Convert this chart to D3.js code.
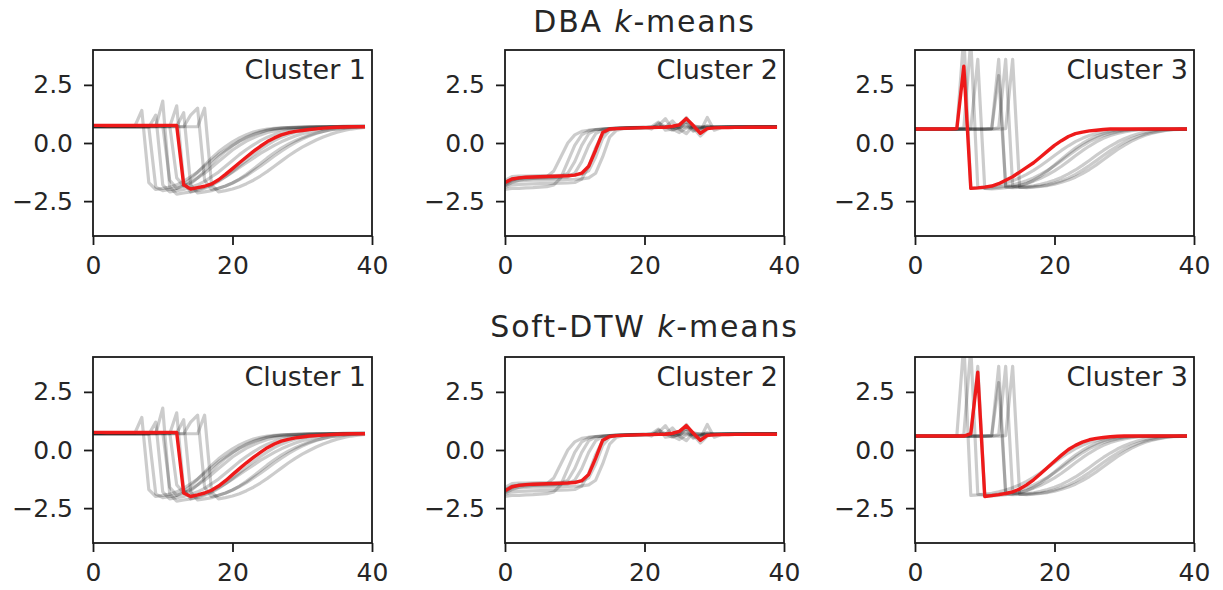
<!DOCTYPE html>
<html>
<head>
<meta charset="utf-8">
<script src="https://cdn.jsdelivr.net/npm/d3@7"></script>
<style>
  body { margin: 0; background: #fff; }
  svg { display: block; font-family: "DejaVu Sans", sans-serif; }
</style>
</head>
<body>
<svg></svg>
<script>
// time series of each cluster (t = 0..39), same members in both rows
const cluster1 = [
  [0.72,0.72,0.71,0.72,0.72,0.71,0.72,1.4,-1.7,-2.0,-1.95,-1.9,-1.8,-1.65,-1.45,-1.25,-1.0,-0.75,-0.5,-0.3,-0.1,0.08,0.22,0.35,0.45,0.55,0.6,0.63,0.65,0.66,0.67,0.68,0.69,0.7,0.7,0.71,0.71,0.72,0.72,0.72],
  [0.7,0.7,0.7,0.7,0.7,0.7,0.7,0.7,0.7,-1.9,-2.05,-2.0,-1.95,-1.85,-1.7,-1.5,-1.3,-1.05,-0.8,-0.55,-0.3,-0.1,0.08,0.22,0.35,0.45,0.52,0.58,0.62,0.64,0.66,0.67,0.68,0.69,0.7,0.7,0.71,0.71,0.72,0.72],
  [0.68,0.68,0.68,0.68,0.68,0.68,0.68,0.68,0.68,1.2,-1.8,-2.1,-2.05,-2.0,-1.9,-1.8,-1.65,-1.45,-1.25,-1.0,-0.75,-0.5,-0.28,-0.08,0.1,0.25,0.37,0.46,0.53,0.58,0.62,0.65,0.67,0.68,0.69,0.7,0.7,0.71,0.71,0.72],
  [0.7,0.7,0.7,0.7,0.7,0.7,0.7,0.7,0.7,0.7,1.8,-1.9,-2.2,-2.15,-2.1,-2.0,-1.9,-1.78,-1.62,-1.45,-1.25,-1.05,-0.85,-0.65,-0.45,-0.27,-0.1,0.05,0.18,0.3,0.4,0.48,0.55,0.6,0.63,0.66,0.68,0.69,0.7,0.7],
  [0.75,0.75,0.75,0.75,0.75,0.75,0.75,0.75,0.75,0.75,0.75,0.75,-1.5,-1.85,-1.75,-1.5,-1.2,-0.9,-0.6,-0.35,-0.12,0.08,0.25,0.38,0.48,0.56,0.61,0.64,0.66,0.67,0.68,0.69,0.7,0.7,0.71,0.71,0.72,0.72,0.72,0.72],
  [0.7,0.7,0.7,0.7,0.7,0.7,0.7,0.7,0.7,0.7,0.7,0.7,1.6,-1.7,-2.1,-2.05,-1.95,-1.82,-1.65,-1.45,-1.22,-0.98,-0.74,-0.5,-0.28,-0.08,0.1,0.25,0.37,0.46,0.53,0.58,0.62,0.65,0.67,0.68,0.69,0.7,0.7,0.71],
  [0.72,0.72,0.72,0.72,0.72,0.72,0.72,0.72,0.72,0.72,0.72,0.72,0.72,1.3,-1.8,-2.15,-2.1,-2.05,-1.95,-1.85,-1.72,-1.57,-1.4,-1.2,-1.0,-0.78,-0.56,-0.35,-0.16,0.02,0.17,0.3,0.41,0.5,0.57,0.62,0.66,0.68,0.7,0.71],
  [0.7,0.7,0.7,0.7,0.7,0.7,0.7,0.7,0.7,0.7,0.7,0.7,0.7,0.7,1.2,1.5,-1.6,-2.0,-1.95,-1.85,-1.72,-1.55,-1.35,-1.12,-0.88,-0.64,-0.42,-0.22,-0.05,0.1,0.23,0.34,0.43,0.5,0.56,0.6,0.63,0.66,0.68,0.7],
  [0.7,0.7,0.7,0.7,0.7,0.7,0.7,0.7,0.7,0.7,0.7,0.7,0.7,0.7,0.7,0.7,1.5,-1.8,-2.1,-2.05,-1.98,-1.88,-1.75,-1.6,-1.42,-1.22,-1.0,-0.78,-0.56,-0.36,-0.18,-0.02,0.13,0.26,0.37,0.46,0.54,0.6,0.64,0.67],
  [0.75,0.75,0.75,0.75,0.75,0.75,0.75,0.75,0.75,0.75,0.75,-1.6,-1.95,-1.8,-1.55,-1.25,-0.95,-0.65,-0.38,-0.15,0.05,0.22,0.36,0.47,0.55,0.6,0.63,0.65,0.66,0.67,0.68,0.69,0.7,0.7,0.71,0.71,0.72,0.72,0.72,0.72]
];

const cluster2 = [
  [-2.0,-1.95,-1.95,-1.93,-1.92,-1.9,-1.88,-1.8,-1.5,-0.8,-0.1,0.35,0.52,0.58,0.6,0.62,0.63,0.64,0.65,0.65,0.66,0.7,0.9,0.55,0.6,0.65,0.8,0.5,0.62,0.66,0.67,0.68,0.68,0.69,0.69,0.7,0.7,0.7,0.7,0.7],
  [-1.8,-1.6,-1.5,-1.48,-1.47,-1.46,-1.45,-1.2,-0.6,0.0,0.35,0.5,0.55,0.58,0.6,0.62,0.63,0.64,0.65,0.66,0.66,0.67,0.75,1.05,0.6,0.45,0.65,0.66,0.68,0.68,0.69,0.69,0.7,0.7,0.7,0.7,0.71,0.71,0.71,0.71],
  [-1.7,-1.55,-1.52,-1.5,-1.5,-1.5,-1.49,-1.49,-1.48,-1.46,-1.3,-0.8,-0.1,0.4,0.58,0.62,0.64,0.65,0.66,0.66,0.67,0.67,0.68,0.68,0.95,0.6,0.4,0.75,0.66,0.67,0.68,0.68,0.69,0.69,0.7,0.7,0.7,0.7,0.7,0.7],
  [-1.9,-1.8,-1.78,-1.77,-1.76,-1.75,-1.75,-1.74,-1.73,-1.72,-1.7,-1.55,-1.0,-0.2,0.4,0.6,0.64,0.65,0.66,0.67,0.68,0.6,0.85,0.7,0.55,0.7,1.1,0.65,0.3,0.6,0.68,0.69,0.69,0.7,0.7,0.7,0.71,0.71,0.71,0.71],
  [-1.6,-1.45,-1.42,-1.42,-1.41,-1.4,-1.4,-1.4,-1.39,-1.38,-1.37,-1.35,-1.2,-0.6,0.2,0.55,0.62,0.64,0.65,0.66,0.66,0.67,0.68,0.68,0.7,0.8,0.9,0.55,0.62,0.75,0.66,0.67,0.68,0.68,0.69,0.69,0.7,0.7,0.7,0.7],
  [-1.75,-1.65,-1.62,-1.61,-1.6,-1.6,-1.6,-1.59,-1.58,-1.57,-1.56,-1.54,-1.5,-1.3,-0.6,0.25,0.55,0.62,0.64,0.65,0.66,0.67,0.67,0.68,0.68,0.6,0.95,0.7,0.5,1.1,0.55,0.66,0.68,0.69,0.69,0.7,0.7,0.7,0.7,0.7],
  [-1.85,-1.7,-1.6,-1.55,-1.52,-1.5,-1.5,-1.49,-1.45,-1.3,-0.8,-0.1,0.4,0.56,0.6,0.62,0.63,0.64,0.65,0.66,0.66,0.67,0.67,0.68,0.68,0.68,0.69,0.69,0.69,0.7,0.7,0.7,0.7,0.7,0.7,0.71,0.71,0.71,0.71,0.71]
];

const cluster3 = [
  [0.6,0.6,0.6,0.6,0.6,0.6,0.62,4.6,-1.95,-1.93,-1.9,-1.86,-1.8,-1.72,-1.62,-1.5,-1.35,-1.18,-0.98,-0.76,-0.54,-0.32,-0.12,0.06,0.2,0.32,0.41,0.48,0.53,0.56,0.58,0.59,0.6,0.6,0.6,0.6,0.6,0.6,0.6,0.6],
  [0.6,0.6,0.6,0.6,0.6,0.6,0.6,0.65,4.4,-1.9,-1.95,-1.93,-1.9,-1.86,-1.8,-1.72,-1.62,-1.5,-1.35,-1.18,-0.98,-0.76,-0.54,-0.32,-0.12,0.06,0.2,0.32,0.41,0.48,0.53,0.56,0.58,0.59,0.6,0.6,0.6,0.6,0.6,0.6],
  [0.6,0.6,0.6,0.6,0.6,0.6,0.6,0.6,0.62,3.6,-1.95,-1.97,-1.95,-1.92,-1.88,-1.82,-1.74,-1.64,-1.52,-1.37,-1.2,-1.0,-0.78,-0.55,-0.33,-0.13,0.05,0.2,0.32,0.41,0.48,0.53,0.56,0.58,0.59,0.6,0.6,0.6,0.6,0.6],
  [0.62,0.62,0.61,0.61,0.61,0.6,0.6,0.6,0.6,0.6,0.6,0.62,3.6,-1.9,-1.92,-1.9,-1.88,-1.84,-1.78,-1.7,-1.6,-1.48,-1.33,-1.16,-0.96,-0.75,-0.53,-0.32,-0.13,0.04,0.18,0.3,0.4,0.47,0.52,0.56,0.58,0.59,0.6,0.6],
  [0.6,0.6,0.6,0.6,0.6,0.6,0.6,0.6,0.6,0.6,0.6,0.6,0.65,3.6,-1.85,-1.9,-1.9,-1.88,-1.85,-1.8,-1.72,-1.62,-1.5,-1.35,-1.17,-0.97,-0.76,-0.54,-0.33,-0.14,0.03,0.17,0.29,0.39,0.46,0.51,0.55,0.58,0.6,0.6],
  [0.6,0.6,0.6,0.6,0.6,0.6,0.6,0.6,0.6,0.6,0.6,0.6,0.6,0.62,3.6,-1.9,-1.92,-1.9,-1.87,-1.83,-1.77,-1.69,-1.59,-1.47,-1.32,-1.14,-0.94,-0.72,-0.5,-0.29,-0.1,0.07,0.21,0.33,0.42,0.49,0.54,0.57,0.59,0.6],
  [0.6,0.6,0.6,0.6,0.6,0.6,0.6,0.6,0.6,0.6,0.6,0.62,2.9,-1.85,-1.9,-1.85,-1.75,-1.6,-1.42,-1.2,-0.95,-0.7,-0.45,-0.22,-0.02,0.15,0.29,0.4,0.48,0.53,0.56,0.58,0.59,0.6,0.6,0.6,0.6,0.6,0.6,0.6]
];

// barycenters (red)
const dbaCenters = [
  [0.76,0.76,0.75,0.75,0.76,0.75,0.75,0.76,0.75,0.75,0.76,0.76,0.75,-1.8,-1.98,-1.92,-1.86,-1.76,-1.58,-1.35,-1.1,-0.85,-0.6,-0.36,-0.14,0.06,0.22,0.35,0.44,0.5,0.54,0.58,0.61,0.64,0.66,0.68,0.69,0.7,0.7,0.7],
  [-1.7,-1.55,-1.5,-1.47,-1.46,-1.45,-1.44,-1.43,-1.42,-1.41,-1.38,-1.3,-1.0,-0.3,0.45,0.6,0.62,0.63,0.64,0.65,0.66,0.66,0.67,0.68,0.72,0.78,1.05,0.75,0.42,0.62,0.65,0.66,0.66,0.67,0.67,0.68,0.68,0.68,0.68,0.68],
  [0.6,0.6,0.6,0.6,0.6,0.6,0.62,3.3,-1.95,-1.93,-1.9,-1.85,-1.75,-1.6,-1.45,-1.25,-1.05,-0.85,-0.6,-0.35,-0.1,0.1,0.28,0.4,0.47,0.52,0.55,0.58,0.6,0.6,0.6,0.6,0.6,0.6,0.6,0.6,0.6,0.6,0.6,0.6]
];

const softDtwCenters = [
  [0.76,0.76,0.75,0.75,0.76,0.75,0.75,0.76,0.75,0.75,0.76,0.76,0.75,-1.85,-2.0,-1.93,-1.85,-1.73,-1.55,-1.32,-1.06,-0.8,-0.55,-0.32,-0.1,0.1,0.26,0.38,0.46,0.52,0.56,0.6,0.62,0.64,0.66,0.68,0.69,0.7,0.7,0.7],
  [-1.75,-1.58,-1.52,-1.49,-1.47,-1.46,-1.45,-1.44,-1.43,-1.42,-1.4,-1.32,-1.05,-0.35,0.42,0.58,0.62,0.63,0.64,0.65,0.66,0.66,0.67,0.68,0.72,0.8,1.05,0.72,0.42,0.63,0.65,0.66,0.66,0.67,0.67,0.68,0.68,0.68,0.68,0.68],
  [0.6,0.6,0.6,0.6,0.6,0.6,0.6,0.6,0.7,3.35,-2.0,-1.96,-1.92,-1.87,-1.8,-1.68,-1.5,-1.28,-1.02,-0.75,-0.48,-0.22,0.02,0.2,0.34,0.44,0.5,0.54,0.57,0.59,0.6,0.6,0.6,0.6,0.6,0.6,0.6,0.6,0.6,0.6]
];

const rowMethods = ["DBA", "Soft-DTW"];
const clusterLabels = ["Cluster 1", "Cluster 2", "Cluster 3"];
const xTicks = [0, 20, 40];
const yTicks = [-2.5, 0, 2.5];

const width = 1223;
const height = 590;
const colLeft = [93, 505, 915];
const rowTop = [50, 357];
const titleY = [32, 337];
const panelW = 279;
const panelH = 186;
const ink = "#262626";

const svg = d3.select("svg").attr("width", width).attr("height", height);

const clusters = [cluster1, cluster2, cluster3];
const centers = [dbaCenters, softDtwCenters];

const x = d3.scaleLinear().domain([0, 40]).range([0, panelW]);
const y = d3.scaleLinear().domain([-4, 4]).range([panelH, 0]);
const line = d3.line().x((d, i) => x(i)).y(d => y(d));

rowMethods.forEach((method, r) => {
  const title = svg.append("text")
    .attr("x", colLeft[1] + panelW / 2)
    .attr("y", titleY[r])
    .attr("text-anchor", "middle")
    .attr("font-size", 30)
    .attr("letter-spacing", 1.8)
    .attr("fill", ink);
  title.append("tspan").text(method + " ");
  title.append("tspan").attr("font-style", "italic").text("k");
  title.append("tspan").text("-means");

  clusters.forEach((series, c) => {
    const g = svg.append("g").attr("transform", `translate(${colLeft[c]},${rowTop[r]})`);
    const clipId = `clip-${r}-${c}`;

    g.append("clipPath").attr("id", clipId)
      .append("rect").attr("width", panelW).attr("height", panelH);

    const plot = g.append("g").attr("clip-path", `url(#${clipId})`);

    plot.selectAll("path.member")
      .data(series)
      .join("path")
      .attr("class", "member")
      .attr("d", line)
      .attr("fill", "none")
      .attr("stroke", "#000")
      .attr("stroke-opacity", 0.2)
      .attr("stroke-width", 3.2)
      .attr("stroke-linejoin", "round");

    plot.append("path")
      .attr("d", line(centers[r][c]))
      .attr("fill", "none")
      .attr("stroke", "#ee1a1a")
      .attr("stroke-width", 3.4)
      .attr("stroke-linejoin", "round");

    g.append("rect")
      .attr("width", panelW)
      .attr("height", panelH)
      .attr("fill", "none")
      .attr("stroke", "#1a1a1a")
      .attr("stroke-width", 1.8);

    const xAxis = g.append("g")
      .attr("transform", `translate(0,${panelH})`)
      .call(d3.axisBottom(x).tickValues(xTicks).tickSize(9).tickPadding(11));

    const yAxis = g.append("g")
      .call(d3.axisLeft(y).tickValues(yTicks).tickSize(9).tickPadding(11).tickFormat(d3.format(".1f")));

    [xAxis, yAxis].forEach(a => {
      a.select(".domain").remove();
      a.selectAll(".tick line").attr("stroke", "#1a1a1a").attr("stroke-width", 1.8);
      a.selectAll(".tick text")
        .attr("fill", ink)
        .attr("font-size", 25)
        .attr("font-family", "DejaVu Sans");
    });

    g.append("text")
      .attr("x", panelW - 6)
      .attr("y", 29)
      .attr("text-anchor", "end")
      .attr("font-size", 27)
      .attr("fill", ink)
      .text(clusterLabels[c]);
  });
});
</script>
</body>
</html>
